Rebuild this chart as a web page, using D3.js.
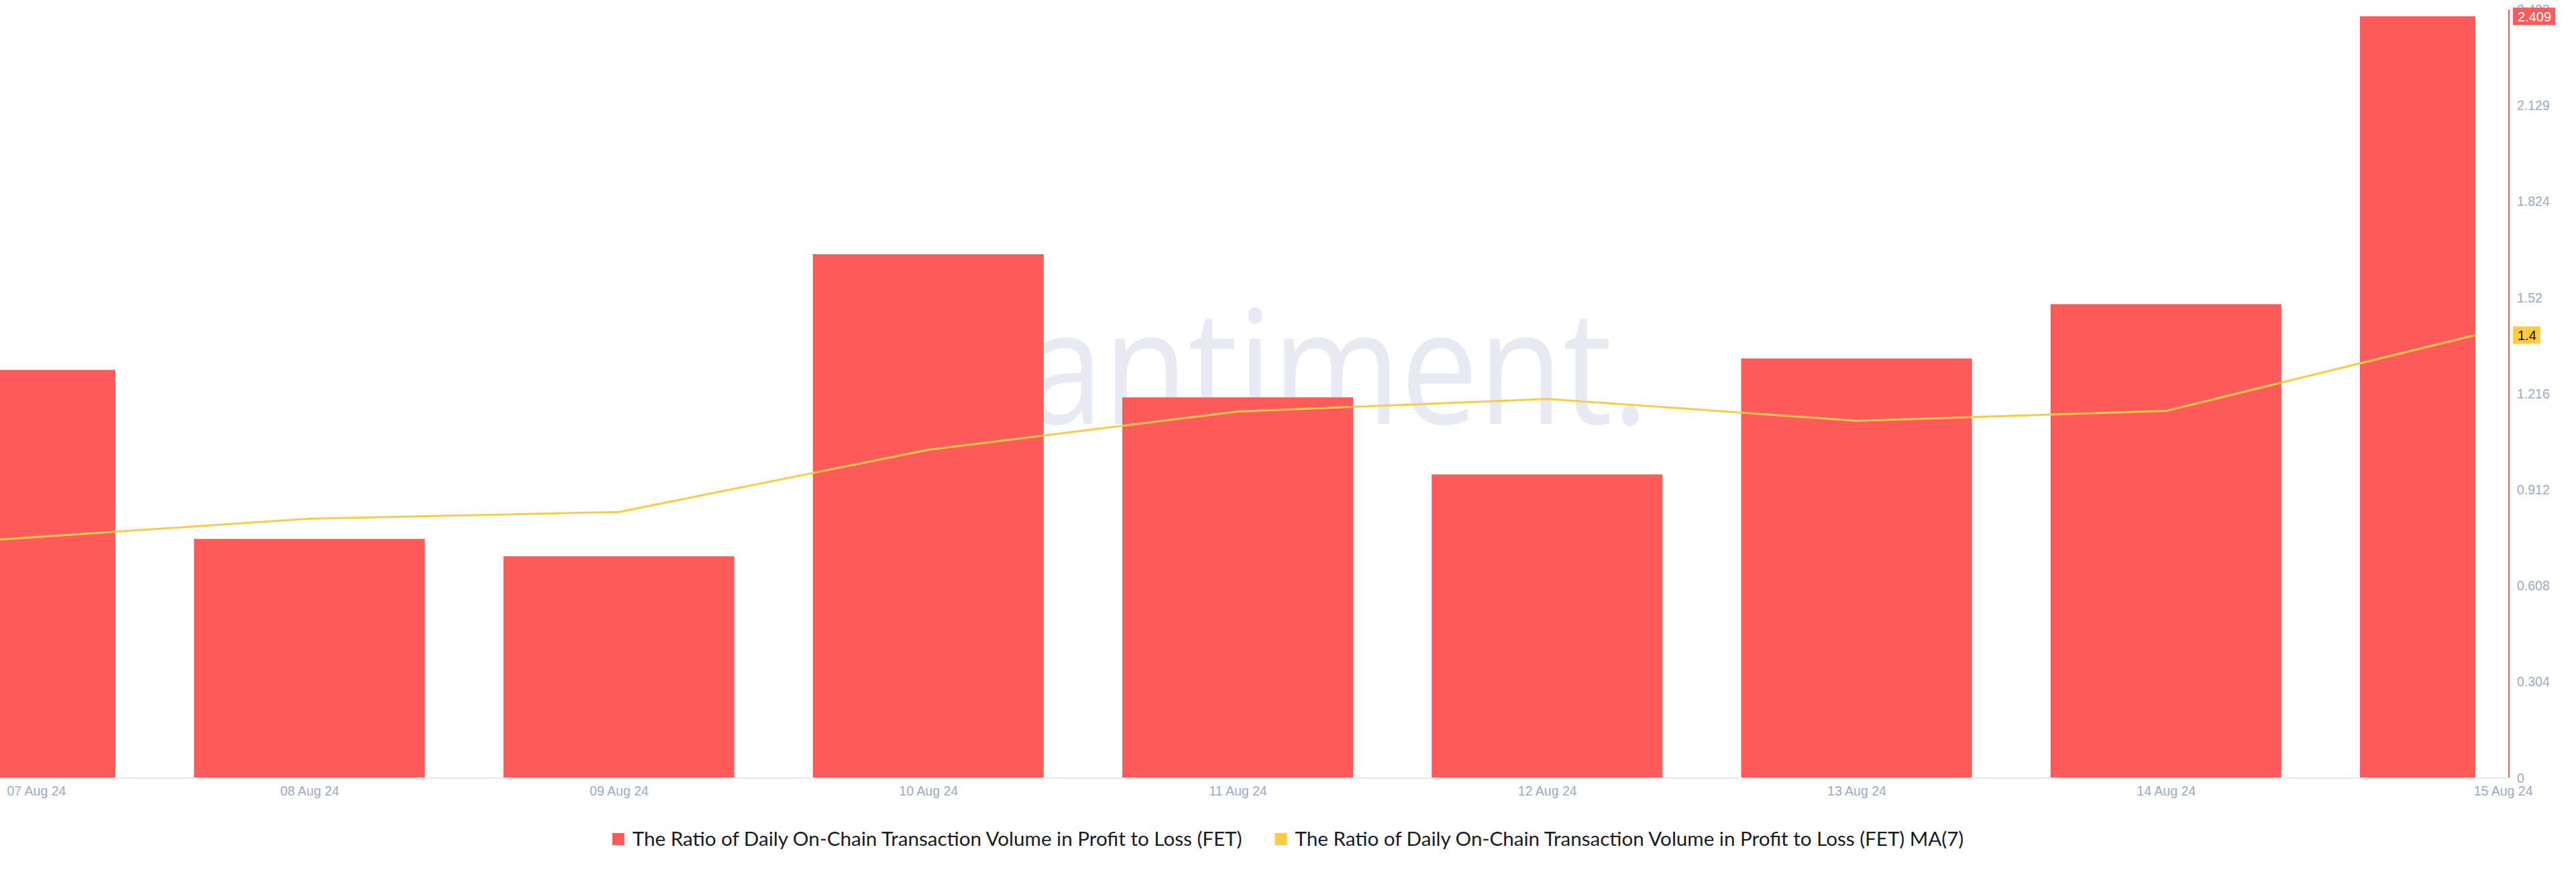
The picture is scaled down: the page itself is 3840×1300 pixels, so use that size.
<!DOCTYPE html>
<html>
<head>
<meta charset="utf-8">
<script src="https://cdn.jsdelivr.net/npm/d3@7"></script>
<style>
  html, body { margin: 0; padding: 0; background: #ffffff; }
  svg { display: block; }
</style>
</head>
<body>
<svg id="chart" width="3840" height="1300"></svg>
<script>
// ---------------- data ----------------
const dates = ["2024-08-07","2024-08-08","2024-08-09","2024-08-10","2024-08-11","2024-08-12","2024-08-13","2024-08-14","2024-08-15"];
const dateLabels = ["07 Aug 24","08 Aug 24","09 Aug 24","10 Aug 24","11 Aug 24","12 Aug 24","13 Aug 24","14 Aug 24","15 Aug 24"];
const ratioValues = [1.290, 0.755, 0.700, 1.656, 1.203, 0.959, 1.326, 1.498, 2.409];
const maValues    = [0.753, 0.819, 0.840, 1.037, 1.158, 1.198, 1.129, 1.160, 1.400];
const yTickValues = [0, 0.304, 0.608, 0.912, 1.216, 1.52, 1.824, 2.129, 2.433];
const yTickLabels = ["0","0.304","0.608","0.912","1.216","1.52","1.824","2.129","2.433"];
const seriesNames = ["The Ratio of Daily On-Chain Transaction Volume in Profit to Loss (FET)",
                     "The Ratio of Daily On-Chain Transaction Volume in Profit to Loss (FET) MA(7)"];
const seriesColors = ["#ff5b5b", "#ffcb47"];

// ---------------- layout ----------------
const W = 3840, H = 1300;
const plotLeft = 0, plotRight = 3690, axisX = 3740;
const plotTop = 13, plotBottom = 1159;
const tickColor = "#9da8c3";
const tickFont = "'Liberation Sans', Arial, Helvetica, sans-serif";

const parse = d3.utcParse("%Y-%m-%d");
const dateObjs = dates.map(parse);

const svg = d3.select("#chart");

const x = d3.scaleUtc().domain([dateObjs[0], dateObjs[dateObjs.length-1]]).range([plotLeft, plotRight]);
const y = d3.scaleLinear().domain([0, yTickValues[yTickValues.length-1]]).range([plotBottom, plotTop]);
const dayW = x(dateObjs[1]) - x(dateObjs[0]);
const barW = dayW * 0.746;

// clip
svg.append("defs").append("clipPath").attr("id", "plotClip")
  .append("rect").attr("x", plotLeft).attr("y", 0).attr("width", plotRight - plotLeft).attr("height", plotBottom);

// watermark
svg.append("text")
  .attr("font-family", "'Open Sans', sans-serif")
  .attr("font-size", 237)
  .attr("fill", "#e7eaf3")
  .attr("transform", "translate(1432,632) scale(0.87,1)")
  .text("santiment.");

// baseline
svg.append("line")
  .attr("x1", plotLeft).attr("x2", axisX)
  .attr("y1", plotBottom + 1).attr("y2", plotBottom + 1)
  .attr("stroke", "#e6eaf2").attr("stroke-width", 2);

const plot = svg.append("g").attr("clip-path", "url(#plotClip)");

// bars
plot.selectAll("rect.bar")
  .data(ratioValues)
  .join("rect")
  .attr("class", "bar")
  .attr("x", (d, i) => x(dateObjs[i]) - barW / 2)
  .attr("width", barW)
  .attr("y", d => y(d))
  .attr("height", d => plotBottom - y(d))
  .attr("fill", seriesColors[0]);

// MA line
const line = d3.line()
  .x((d, i) => x(dateObjs[i]))
  .y(d => y(d));
plot.append("path")
  .datum(maValues)
  .attr("d", line)
  .attr("fill", "none")
  .attr("stroke", seriesColors[1])
  .attr("stroke-width", 3)
  .attr("stroke-linejoin", "round");

// right axis line
svg.append("line")
  .attr("x1", axisX).attr("x2", axisX)
  .attr("y1", y(yTickValues[yTickValues.length-1]) + 1).attr("y2", plotBottom)
  .attr("stroke", seriesColors[0]).attr("stroke-width", 2);

// y ticks (via axis generator)
const yAxis = d3.axisRight(y)
  .tickValues(yTickValues)
  .tickFormat((d, i) => yTickLabels[i])
  .tickSize(0)
  .tickPadding(12);
const yg = svg.append("g").attr("transform", `translate(${axisX},0)`).call(yAxis);
yg.select(".domain").remove();
yg.selectAll("text")
  .attr("fill", tickColor)
  .attr("font-family", tickFont)
  .attr("font-size", 19.5)
  .attr("dy", "0.36em");

// x labels (via axis generator)
const xAxis = d3.axisBottom(x)
  .tickValues(dateObjs)
  .tickFormat((d, i) => dateLabels[i])
  .tickSize(0)
  .tickPadding(0);
const xg = svg.append("g").attr("transform", `translate(0,${plotBottom})`).call(xAxis);
xg.select(".domain").remove();
xg.selectAll("text")
  .attr("fill", tickColor)
  .attr("font-family", tickFont)
  .attr("font-size", 19.5)
  .attr("y", 27)
  .attr("dy", 0)
  .each(function(d, i) {
    const t = d3.select(this);
    if (i === 0) { t.attr("text-anchor", "start").attr("x", 10); }
    else if (i === dateObjs.length - 1) { t.attr("text-anchor", "end").attr("x", 85); }
  });

// value badges on right axis
function badge(value, fill, textFill) {
  const g = svg.append("g").attr("transform", `translate(${axisX + 6},${y(value)})`);
  const t = g.append("text")
    .attr("x", 7).attr("dy", "0.36em")
    .attr("font-family", tickFont)
    .attr("font-size", 20)
    .attr("fill", textFill)
    .text(String(value));
  const w = t.node().getComputedTextLength();
  g.insert("rect", "text")
    .attr("x", 0).attr("y", -13)
    .attr("width", w + 13).attr("height", 26)
    .attr("fill", fill);
}
badge(ratioValues[ratioValues.length-1], seriesColors[0], "#ffffff");
badge(maValues[maValues.length-1], seriesColors[1], "#111111");

// legend
const legend = svg.append("g");
const legendFont = "Lato, 'Noto Sans', sans-serif";
const legendTargetW = 909; // width of first legend label in the reference
const probe = svg.append("text").attr("font-family", legendFont).attr("font-size", 26).text(seriesNames[0]);
const legendSize = 26 * legendTargetW / probe.node().getComputedTextLength();
probe.remove();
let cx = 0;
seriesNames.forEach((name, i) => {
  const g = legend.append("g");
  g.append("rect").attr("x", 0).attr("y", -9).attr("width", 18).attr("height", 18).attr("fill", seriesColors[i]);
  const t = g.append("text").attr("x", 30).attr("dy", "0.35em")
    .attr("font-family", legendFont).attr("font-size", legendSize).attr("fill", "#181a24").text(name);
  const w = 30 + t.node().getComputedTextLength();
  g.attr("transform", `translate(${cx},0)`);
  cx += w + 49;
});
const totalW = cx - 49;
legend.attr("transform", `translate(${W / 2 - totalW / 2},1251)`);
</script>
</body>
</html>
